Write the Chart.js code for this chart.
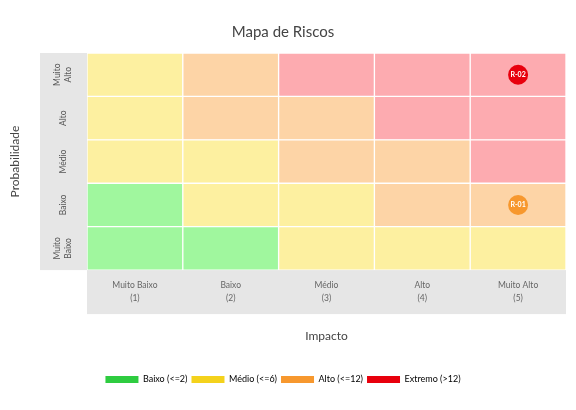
<!DOCTYPE html>
<html>
<head>
<meta charset="utf-8">
<script src="https://cdn.jsdelivr.net/npm/chart.js@4.4.0/dist/chart.umd.min.js"></script>
<style>
html,body{margin:0;padding:0;background:#fff;}
#wrap{width:576px;height:410px;position:relative;}
</style>
</head>
<body>
<div id="wrap"><canvas id="c" width="576" height="410"></canvas></div>
<script>
// ---- data ----
const chartTitle = 'Mapa de Riscos';
const impactLabels = ['Muito Baixo', 'Baixo', 'Médio', 'Alto', 'Muito Alto'];
const probLabels = ['Muito Baixo', 'Baixo', 'Médio', 'Alto', 'Muito Alto']; // bottom to top
const probTickLines = [['Muito', 'Baixo'], ['Baixo'], ['Médio'], ['Alto'], ['Muito', 'Alto']];
const levelNames = ['Baixo (<=2)', 'Médio (<=6)', 'Alto (<=12)', 'Extremo (>12)'];
const levelLimits = [2, 6, 12, Infinity];
const levelColors = ['#2ecc40', '#f4d21c', '#f7982e', '#e8000d'];
const cellColors = ['#a0f79e', '#fdf0a0', '#fdd4a6', '#fdabb0'];
const riskIds = ['R-01', 'R-02'];
const riskImpact = [5, 5];
const riskProb = [2, 5];

function levelOf(score) { return levelLimits.findIndex(l => score <= l); }

const rowDatasets = probLabels.map((p, r) => ({
  type: 'bar',
  label: p,
  order: 1,
  data: impactLabels.map(() => 1),
  backgroundColor: impactLabels.map((_, i) => cellColors[levelOf((i + 1) * (r + 1))]),
  borderColor: '#ffffff',
  borderWidth: 1,
  borderSkipped: false,
  barPercentage: 1,
  categoryPercentage: 1,
  stack: 'cells'
}));

const riskDataset = {
  type: 'bubble',
  label: 'Riscos',
  order: -1,
  stack: 'risks',
  data: riskIds.map((id, k) => ({ x: impactLabels[riskImpact[k] - 1], y: riskProb[k] - 0.5, r: 10 })),
  backgroundColor: riskIds.map((_, k) => levelColors[levelOf(riskImpact[k] * riskProb[k])]),
  borderWidth: 0
};

const FONT = 'Lato, "Open Sans", sans-serif';

const panelPlugin = {
  id: 'panels',
  beforeDraw(chart) {
    const { ctx, chartArea: a } = chart;
    ctx.save();
    ctx.fillStyle = '#e6e6e6';
    ctx.fillRect(a.left - 47, a.top, 47, a.bottom - a.top);
    ctx.fillRect(a.left, a.bottom, a.right - a.left, 44);
    ctx.restore();
  },
  afterDraw(chart) {
    const { ctx, chartArea: a, scales } = chart;
    ctx.save();
    // y tick labels, rotated
    ctx.fillStyle = '#555';
    ctx.font = '8.5px ' + FONT;
    ctx.textAlign = 'center';
    ctx.textBaseline = 'middle';
    probTickLines.forEach((lines, r) => {
      const y = scales.y.getPixelForValue(r + 0.5);
      const x = a.left - 24;
      ctx.save();
      ctx.translate(x, y);
      ctx.rotate(-Math.PI / 2);
      const lh = 11;
      lines.forEach((t, j) => {
        ctx.fillText(t, 0, (j - (lines.length - 1) / 2) * lh);
      });
      ctx.restore();
    });
    // risk labels
    const idx = chart.data.datasets.length - 1;
    const meta = chart.getDatasetMeta(idx);
    ctx.fillStyle = '#fff';
    ctx.font = 'bold 7px ' + FONT;
    meta.data.forEach((el, k) => {
      ctx.fillText(riskIds[k], el.x, el.y);
    });
    ctx.restore();
  }
};

new Chart(document.getElementById('c'), {
  data: {
    labels: impactLabels,
    datasets: [...rowDatasets, riskDataset]
  },
  options: {
    responsive: false,
    animation: false,
    layout: { padding: { left: 0, right: 10, top: 9, bottom: 16 } },
    plugins: {
      title: {
        display: true, text: chartTitle, color: '#444',
        font: { family: FONT, size: 15, weight: 'normal' },
        padding: { top: 14, bottom: 12 }
      },
      tooltip: { enabled: false },
      legend: {
        position: 'bottom',
        labels: {
          boxWidth: 33, boxHeight: 7, padding: 4,
          color: '#555', font: { family: FONT, size: 9 },
          generateLabels: () => levelNames.map((n, i) => ({
            text: n, fillStyle: levelColors[i], strokeStyle: levelColors[i], lineWidth: 0, hidden: false, datasetIndex: i
          }))
        },
        onClick: () => {}
      }
    },
    scales: {
      x: {
        type: 'category',
        stacked: true,
        grid: { display: false, drawTicks: false },
        border: { display: false },
        ticks: {
          color: '#666', font: { family: FONT, size: 8.5, lineHeight: 1.5 }, padding: 9,
          maxRotation: 0, minRotation: 0,
          callback: (v, i) => [impactLabels[i], '(' + (i + 1) + ')']
        },
        title: {
          display: true, text: 'Impacto', color: '#444',
          font: { family: FONT, size: 12 }, padding: { top: 15, bottom: 28 }
        }
      },
      y: {
        type: 'linear',
        stacked: true,
        min: 0, max: 5,
        grid: { display: false, drawTicks: false },
        border: { display: false },
        ticks: { display: false },
        afterFit: (s) => { s.width = 87; },
        title: {
          display: true, text: 'Probabilidade', color: '#444',
          font: { family: FONT, size: 12 }, padding: { top: 8, bottom: 0 }
        }
      }
    }
  },
  plugins: [panelPlugin]
});
</script>
</body>
</html>
